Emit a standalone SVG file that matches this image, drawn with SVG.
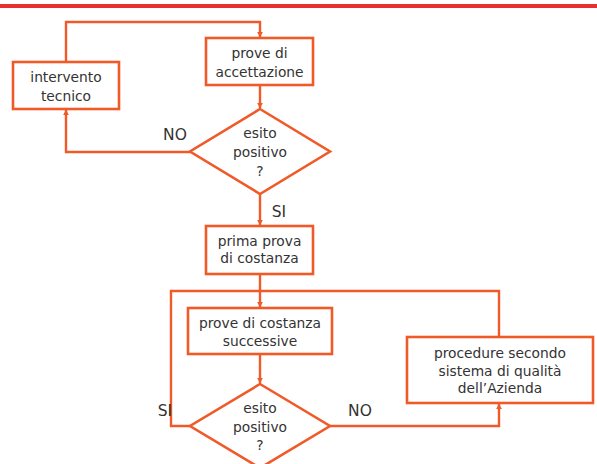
<svg xmlns="http://www.w3.org/2000/svg" width="597" height="464" viewBox="0 0 597 464">
<style>
.n{fill:#fff;stroke:#f05a28;stroke-width:2.6}
.c{fill:none;stroke:#f05a28;stroke-width:2.4}
text{font-family:"DejaVu Sans","Liberation Sans",sans-serif;font-size:13.8px;fill:#333;text-anchor:middle}
.l{font-size:15.5px}
</style>
<defs>
<marker id="a" viewBox="0 0 10 10" refX="9" refY="5" markerWidth="6" markerHeight="6" markerUnits="userSpaceOnUse" orient="auto">
<path d="M0,0L10,5L0,10z" fill="#f05a28"/>
</marker>
</defs>
<rect width="597" height="464" fill="#fff"/>
<rect x="0" y="4" width="597" height="4" fill="#e8302e"/>
<g id="connectors">
<path class="c" d="M66,62V22H260V37" marker-end="url(#a)"/>
<path class="c" d="M260,85V108" marker-end="url(#a)"/>
<path class="c" d="M190,152H66V110" marker-end="url(#a)"/>
<path class="c" d="M260,194V225" marker-end="url(#a)"/>
<path class="c" d="M260,274V307" marker-end="url(#a)"/>
<path class="c" d="M260,354V383" marker-end="url(#a)"/>
<path class="c" d="M190,426H171V291H499V337"/>
<path class="c" d="M330,426H499V404" marker-end="url(#a)"/>
<text class="l" x="175" y="140">NO</text>
<text class="l" x="279" y="217">SI</text>
<text class="l" x="165" y="416">SI</text>
<text class="l" x="360" y="416">NO</text>
</g>
<g id="intervento">
<rect class="n" x="13" y="62" width="106" height="47"/>
<text x="66" y="82">intervento</text>
<text x="66" y="101">tecnico</text>
</g>
<g id="accettazione">
<rect class="n" x="206" y="38" width="107" height="47"/>
<text x="259.5" y="58">prove di</text>
<text x="259.5" y="77">accettazione</text>
</g>
<g id="esito1">
<polygon class="n" points="260,109 330,151.5 260,194 190,151.5"/>
<text x="260" y="138">esito</text>
<text x="260" y="157">positivo</text>
<text x="260" y="176">?</text>
</g>
<g id="prima">
<rect class="n" x="206" y="226" width="107" height="48"/>
<text x="259.5" y="246">prima prova</text>
<text x="259.5" y="263">di costanza</text>
</g>
<g id="successive">
<rect class="n" x="188" y="308" width="144" height="46"/>
<text x="260" y="328">prove di costanza</text>
<text x="260" y="346">successive</text>
</g>
<g id="procedure">
<rect class="n" x="407" y="337" width="186" height="66"/>
<text x="500" y="358">procedure secondo</text>
<text x="500" y="376">sistema di qualità</text>
<text x="500" y="393">dell’Azienda</text>
</g>
<g id="esito2">
<polygon class="n" points="260,384 330,426 260,468 190,426"/>
<text x="260" y="413">esito</text>
<text x="260" y="431.5">positivo</text>
<text x="260" y="450">?</text>
</g>
</svg>
